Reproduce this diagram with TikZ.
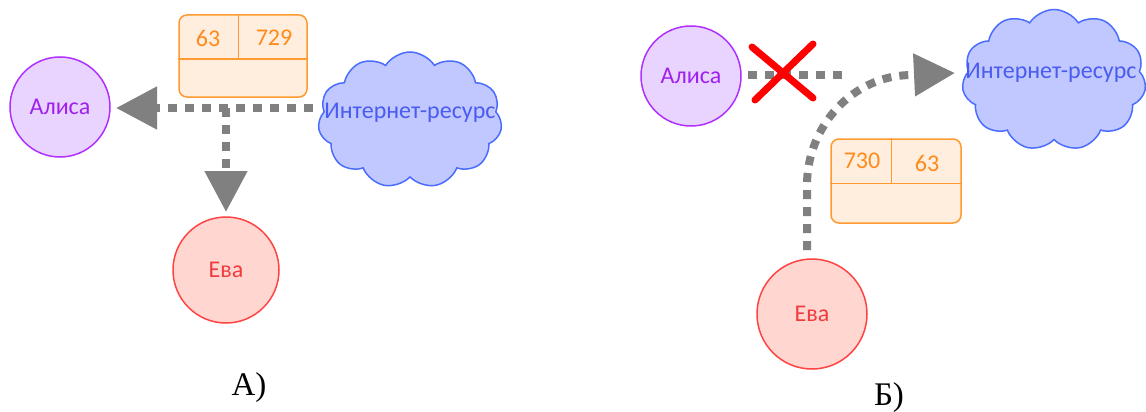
\documentclass[tikz,border=0pt]{standalone}
\usepackage{fontspec}
\setmainfont{Carlito}
\newfontfamily\seriffont{Liberation Serif}
\usetikzlibrary{arrows.meta,shapes.symbols,calc}
\definecolor{alicec}{HTML}{B030FF}
\definecolor{alicef}{HTML}{E8D4FF}
\definecolor{alicet}{HTML}{A020F0}
\definecolor{evec}{HTML}{FF4444}
\definecolor{evef}{HTML}{FFD6D0}
\definecolor{evet}{HTML}{F03C3C}
\definecolor{orc}{HTML}{FF9A30}
\definecolor{orf}{HTML}{FFEEDD}
\definecolor{ort}{HTML}{FF8A1A}
\definecolor{cloudc}{HTML}{4A6CFF}
\definecolor{cloudf}{HTML}{C0C8FF}
\definecolor{cloudt}{HTML}{4A5CF0}
\definecolor{conng}{HTML}{808080}
\begin{document}
\begin{tikzpicture}[x=1pt,y=-1pt,
  every node/.style={font=\fontsize{24}{28}\selectfont},
  alicenode/.style={circle,draw=alicec,fill=alicef,text=alicet,line width=1.5pt,minimum size=100pt,inner sep=0pt},
  evenode/.style={circle,draw=evec,fill=evef,text=evet,line width=1.5pt,minimum size=106pt,inner sep=0pt},
  tbl/.style={rectangle,rounded corners=8pt,draw=orc,fill=orf,line width=1.5pt,minimum width=128pt,minimum height=82pt,inner sep=0pt},
  tblline/.style={draw=orc,line width=1.5pt},
  tbltext/.style={text=ort,inner sep=0pt},
  cloudnode/.style={cloud,cloud puffs=11,cloud puff arc=115,aspect=1.35,draw=cloudc,fill=cloudf,line width=1.5pt,minimum width=184pt,minimum height=136pt,inner sep=0pt},
  cloudtext/.style={text=cloudt,inner sep=0pt},
  conn/.style={draw=conng,line width=8pt,dash pattern=on 9pt off 8pt},
  bigtip/.style={-{Triangle[length=41pt,width=41pt]}},
  cross/.style={draw=red,line width=7pt,line cap=round},
  caption/.style={font=\seriffont\fontsize{33}{38}\selectfont,inner sep=0pt}]
\useasboundingbox (0,0) rectangle (1146,412);
\clip (0,0) rectangle (1146,412);
% ---------- Panel A ----------
\node[alicenode] (aliceA) at (60,107) {Алиса};
\node[evenode] (eveA) at (226,270) {Ева};
\node[tbl] (tblA) at (243,56) {};
\draw[tblline] ($(tblA.north west)+(0,45)$) -- ($(tblA.north east)+(0,45)$);
\draw[tblline] ($(tblA.north west)+(60,0)$) -- ($(tblA.north west)+(60,45)$);
\node[tbltext] (a63) at (208,38) {63};
\node[tbltext] (a729) at (274,38) {729};
\node[cloudnode] (cloudA) at (410,120) {};
\node[cloudtext] (cloudAt) at (410,113) {Интернет-ресурс};
\coordinate (startA) at (313,108);
\coordinate (jA) at (226,108);
\coordinate (tipA) at (116,108);
\coordinate (tipE) at (226,212);
\draw[conn,bigtip] (startA) -- (tipA);
\draw[conn,bigtip] (jA) -- (tipE);
\node[caption] (capA) at (249,388) {А)};
% ---------- Panel B ----------
\node[alicenode] (aliceB) at (691,76) {Алиса};
\node[evenode,minimum size=110pt] (eveB) at (812,314) {Ева};
\node[tbl,minimum width=130pt,minimum height=84pt] (tblB) at (896,181) {};
\draw[tblline] ($(tblB.north west)+(0,45)$) -- ($(tblB.north east)+(0,45)$);
\draw[tblline] ($(tblB.north west)+(61,0)$) -- ($(tblB.north west)+(61,45)$);
\node[tbltext] (b730) at (862,161) {730};
\node[tbltext] (b63) at (927,163) {63};
\node[cloudnode,minimum height=141pt] (cloudB) at (1054,80) {};
\node[cloudtext] (cloudBt) at (1051,73) {Интернет-ресурс};
\coordinate (aStartB) at (748,75);
\coordinate (aEndB) at (842,75);
\draw[conn] (aStartB) -- (aEndB);
\coordinate (eStartB) at (807,250);
\coordinate (tipB) at (955,73);
\draw[conn,bigtip] (eStartB) -- (807,185) .. controls (807,127) and (852,75) .. (912,75) -- (tipB);
\coordinate (x1) at (752,47);
\coordinate (x2) at (813,98);
\coordinate (x3) at (813,44);
\coordinate (x4) at (755,100);
\draw[cross] (x1) -- (x2);
\draw[cross] (x3) -- (x4);
\node[caption] (capB) at (889,398) {Б)};
\end{tikzpicture}
\end{document}
